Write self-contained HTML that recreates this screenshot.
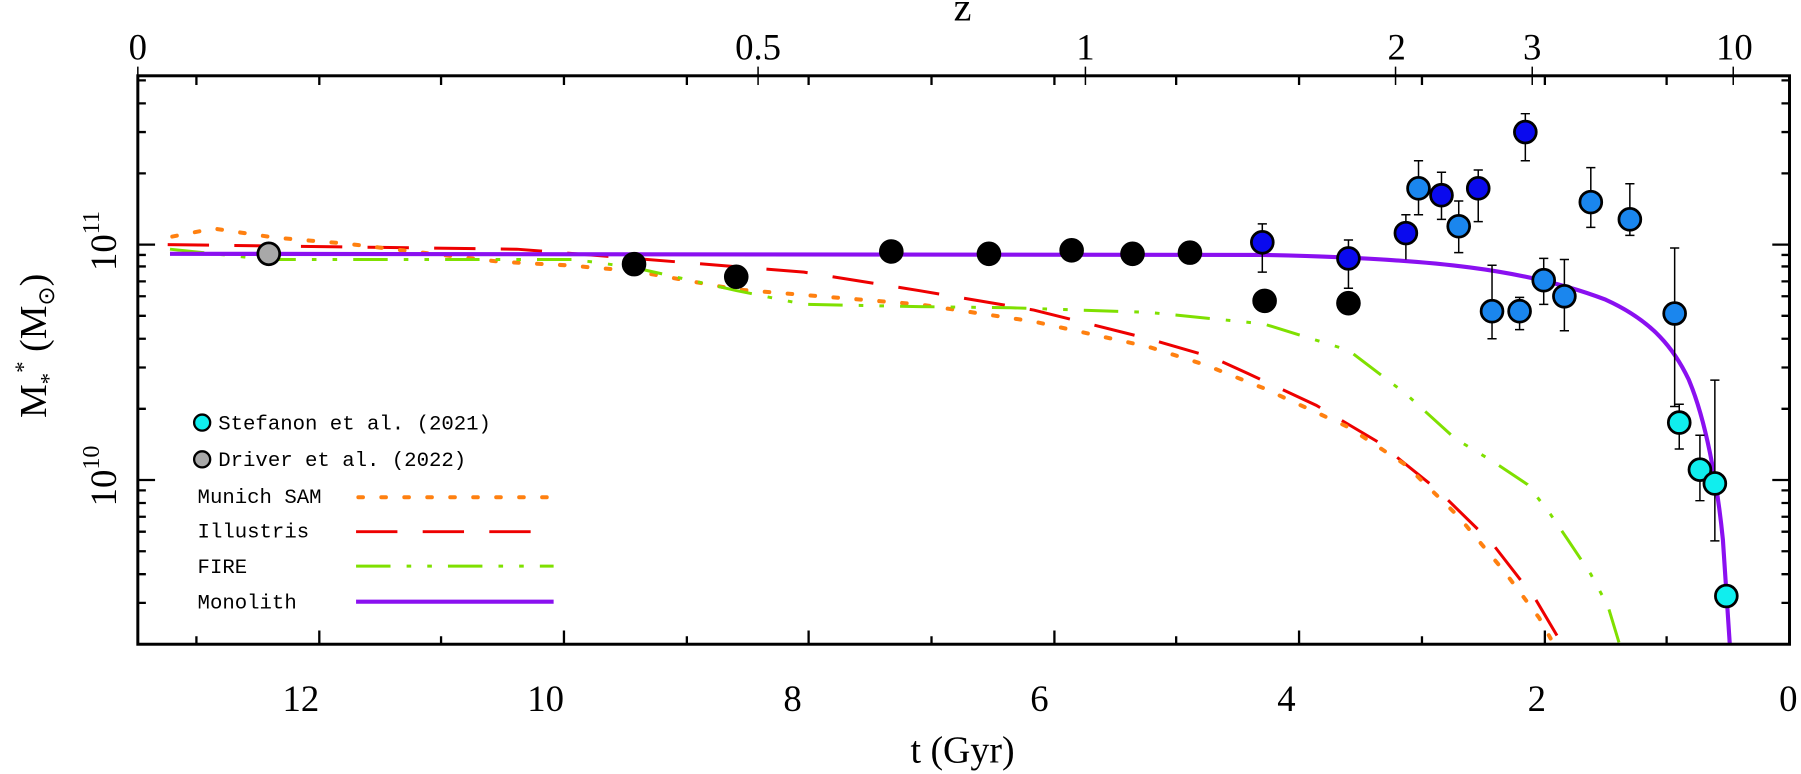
<!DOCTYPE html>
<html><head><meta charset="utf-8"><style>
html,body{margin:0;padding:0;background:#fff;}
svg{display:block;}
.tl{font-family:"Liberation Serif",serif;font-size:32px;fill:#000;}
.lg{font-family:"Liberation Mono",monospace;font-size:18px;fill:#000;}
</style></head><body>
<svg width="1801" height="774" viewBox="0 0 1568 674" preserveAspectRatio="none" xmlns="http://www.w3.org/2000/svg">
<rect x="0" y="0" width="1568" height="674" fill="#fff"/>
<g fill="none" stroke-width="2.6">
<path d="M146,213 L300,215 L450,217 L552,225 L700,237 L800,253 L900,270 L1000,295 L1055,311 L1086,325 L1146,353 L1200,385 L1252,427 L1299,473 L1337,522 L1360,561" stroke="#ee0000" stroke-dasharray="36 22"/>
<path d="M150,206 L186,199 L240,207 L300,212 L436,228 L493,231 L552,236 L641,252 L800,265 L900,280 L1000,302 L1050,318 L1100,338 L1174,372 L1224,405 L1270,450 L1310,498 L1340,538 L1350,556" stroke="#ff8010" stroke-dasharray="4 16" stroke-linecap="round" stroke-width="3.5"/>
<path d="M148,217 L234,226 L500,226 L552,233 L641,253 L700,265 L800,267 L880,268 L1000,272 L1100,282 L1174,305 L1224,343 L1267,382 L1300,402 L1330,422 L1350,448 L1365,470 L1385,500 L1400,528 L1410,561" stroke="#7fe000" stroke-dasharray="30 14 4 14 4 14"/>
<path d="M148,221 L1100,222 C1250,225 1330,235 1398,261 C1440,280 1458,305 1470,330 C1485,365 1495,420 1500,470 L1506,561" stroke="#8a10f0" stroke-width="3.6"/>
</g>
<g stroke="#000" stroke-width="1.3" fill="none">
<path d="M1099,195V237M1095,195h8M1095,237h8"/>
<path d="M1174,209V251M1170,209h8M1170,251h8"/>
<path d="M1174,264V273M1170,273h8"/>
<path d="M1224,187V226M1220,187h8"/>
<path d="M1235,140V187M1231,140h8M1231,187h8"/>
<path d="M1255,150V191M1251,150h8M1251,191h8"/>
<path d="M1270,175V220M1266,175h8M1266,220h8"/>
<path d="M1287,148V193M1283,148h8M1283,193h8"/>
<path d="M1328,99V140M1324,99h8M1324,140h8"/>
<path d="M1385,146V198M1381,146h8M1381,198h8"/>
<path d="M1419,160V205M1415,160h8M1415,205h8"/>
<path d="M1299,231V295M1295,231h8M1295,295h8"/>
<path d="M1323,259V287M1319,259h8M1319,287h8"/>
<path d="M1344,225V265M1340,225h8M1340,265h8"/>
<path d="M1362,226V288M1358,226h8M1358,288h8"/>
<path d="M1458,216V354M1454,216h8M1454,354h8"/>
<path d="M1462,352V391M1458,352h8M1458,391h8"/>
<path d="M1480,379V436M1476,379h8M1476,436h8"/>
<path d="M1493,331V471M1489,331h8M1489,471h8"/>
</g>
<g stroke="#000" stroke-width="2.4">
<circle cx="234" cy="221" r="9.5" fill="#a8a8a8"/>
<circle cx="552" cy="230" r="9.5" fill="#000"/>
<circle cx="641" cy="241" r="9.5" fill="#000"/>
<circle cx="776" cy="219" r="9.5" fill="#000"/>
<circle cx="861" cy="221" r="9.5" fill="#000"/>
<circle cx="933" cy="218" r="9.5" fill="#000"/>
<circle cx="986" cy="221" r="9.5" fill="#000"/>
<circle cx="1036" cy="220" r="9.5" fill="#000"/>
<circle cx="1101" cy="262" r="9.5" fill="#000"/>
<circle cx="1174" cy="264" r="9.5" fill="#000"/>
<circle cx="1099" cy="211" r="9.5" fill="#0a0aee"/>
<circle cx="1174" cy="225" r="9.5" fill="#0a0aee"/>
<circle cx="1224" cy="203" r="9.5" fill="#0a0aee"/>
<circle cx="1235" cy="164" r="9.5" fill="#1a86ee"/>
<circle cx="1255" cy="170" r="9.5" fill="#0a0aee"/>
<circle cx="1270" cy="197" r="9.5" fill="#1a86ee"/>
<circle cx="1287" cy="164" r="9.5" fill="#0a0aee"/>
<circle cx="1328" cy="115" r="9.5" fill="#0a0aee"/>
<circle cx="1385" cy="176" r="9.5" fill="#1a86ee"/>
<circle cx="1419" cy="191" r="9.5" fill="#1a86ee"/>
<circle cx="1299" cy="271" r="9.5" fill="#1a86ee"/>
<circle cx="1323" cy="271" r="9.5" fill="#1a86ee"/>
<circle cx="1344" cy="244" r="9.5" fill="#1a86ee"/>
<circle cx="1362" cy="258" r="9.5" fill="#1a86ee"/>
<circle cx="1458" cy="273" r="9.5" fill="#1a86ee"/>
<circle cx="1462" cy="368" r="9.5" fill="#10eeee"/>
<circle cx="1480" cy="409" r="9.5" fill="#10eeee"/>
<circle cx="1493" cy="421" r="9.5" fill="#10eeee"/>
<circle cx="1503" cy="519" r="9.5" fill="#10eeee"/>
</g>
<rect x="120" y="66" width="1438" height="495" fill="none" stroke="#000" stroke-width="2.6"/>
<g stroke="#000" stroke-width="2">
<path d="M1451,561v-7M1345,561v-12M1238,561v-7M1131,561v-12M1024,561v-7M918,561v-12M811,561v-7M704,561v-12M598,561v-7M491,561v-12M384,561v-7M278,561v-12M171,561v-7"/>
<path d="M1451,66v8M1345,66v8M1238,66v8M1131,66v8M1024,66v8M918,66v8M811,66v8M704,66v8M598,66v8M491,66v8M384,66v8M278,66v8M171,66v8"/>
<path d="M120,58v12M660,58v16M945,58v16M1215,58v16M1334,58v16M1509,58v16" stroke-width="1.3"/>
<path d="M120,213h15M120,418h15M120,525h7M120,500h7M120,480h7M120,463h7M120,450h7M120,438h7M120,427h7M120,356h7M120,320h7M120,295h7M120,275h7M120,258h7M120,245h7M120,232h7M120,222h7M120,151h7M120,115h7M120,90h7M120,70h7"/>
<path d="M1558,213h-15M1558,418h-15M1558,525h-7M1558,500h-7M1558,480h-7M1558,463h-7M1558,450h-7M1558,438h-7M1558,427h-7M1558,356h-7M1558,320h-7M1558,295h-7M1558,275h-7M1558,258h-7M1558,245h-7M1558,232h-7M1558,222h-7M1558,151h-7M1558,115h-7M1558,90h-7M1558,70h-7"/>
</g>
<g class="tl" text-anchor="middle">
<text x="262" y="619">12</text>
<text x="475" y="619">10</text>
<text x="690" y="619">8</text>
<text x="905" y="619">6</text>
<text x="1120" y="619">4</text>
<text x="1338" y="619">2</text>
<text x="1557" y="619">0</text>
<text x="838" y="664" font-size="33">t (Gyr)</text>
<text x="120" y="52">0</text>
<text x="660" y="52">0.5</text>
<text x="945" y="52">1</text>
<text x="1216" y="52">2</text>
<text x="1334" y="52">3</text>
<text x="1510" y="52">10</text>
<text x="838" y="18" font-size="35">z</text>
</g>
<g class="tl">
<text transform="translate(101,236) rotate(-90)" x="0" y="0">10<tspan dy="-15" font-size="21">11</tspan></text>
<text transform="translate(101,441) rotate(-90)" x="0" y="0">10<tspan dy="-15" font-size="21">10</tspan></text>
<text transform="translate(40,364) rotate(-90)" x="0" y="0" font-size="33">M<tspan dy="9" font-size="20">*</tspan><tspan dy="-22" font-size="20">*</tspan><tspan dy="13"> (M</tspan><tspan dy="7" font-size="20">⊙</tspan><tspan dy="-7">)</tspan></text>
</g>
<g stroke="#000" stroke-width="2">
<circle cx="176" cy="368" r="7" fill="#10eeee"/>
<circle cx="176" cy="400" r="7" fill="#a8a8a8"/>
</g>
<g class="lg">
<text x="190" y="374">Stefanon et al. (2021)</text>
<text x="190" y="406">Driver et al. (2022)</text>
<text x="172" y="438">Munich SAM</text>
<text x="172" y="468">Illustris</text>
<text x="172" y="499">FIRE</text>
<text x="172" y="530">Monolith</text>
</g>
<g fill="none" stroke-width="2.6">
<path d="M312,433H478" stroke="#ff8010" stroke-dasharray="4 16" stroke-linecap="round" stroke-width="3.5"/>
<path d="M310,463H482" stroke="#ee0000" stroke-dasharray="36 22"/>
<path d="M310,493H482" stroke="#7fe000" stroke-dasharray="30 14 4 14 4 14"/>
<path d="M310,524H482" stroke="#8a10f0" stroke-width="3.6"/>
</g>
</svg>
</body></html>
